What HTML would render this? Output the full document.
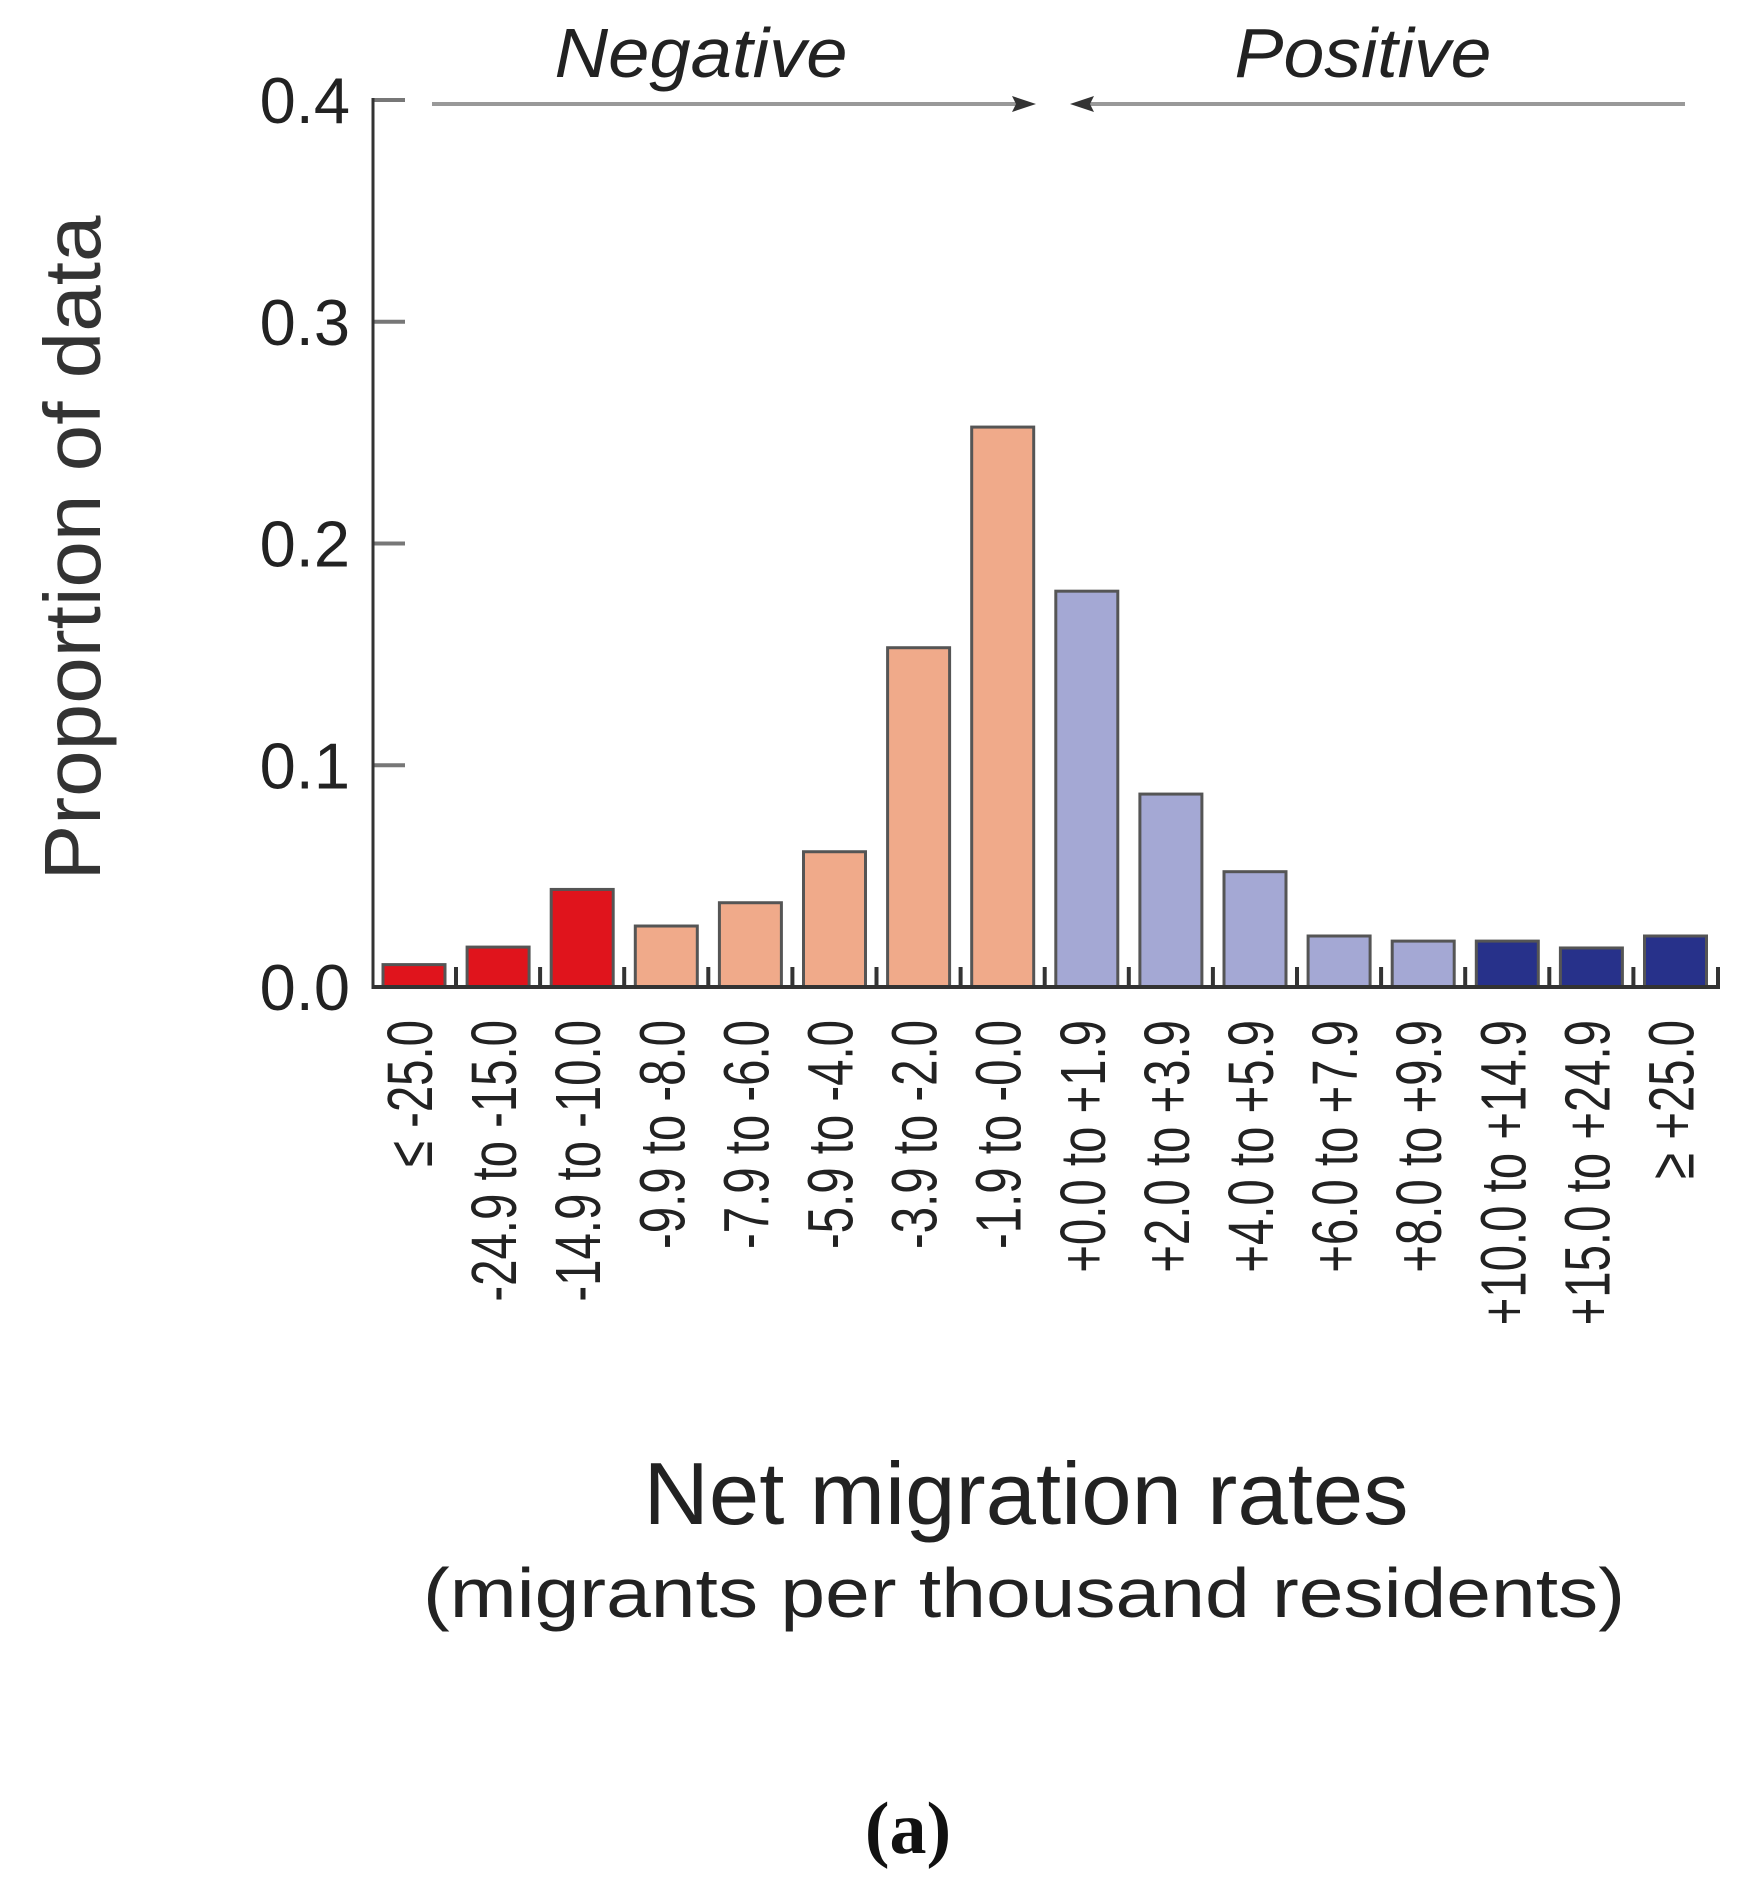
<!DOCTYPE html>
<html><head><meta charset="utf-8"><style>
html,body{margin:0;padding:0;background:#fff;}
svg{display:block;font-family:"Liberation Sans",sans-serif;}
</style></head><body>
<svg id="chart" width="1761" height="1892" viewBox="0 0 1761 1892" xmlns="http://www.w3.org/2000/svg">
<g id="bars"></g>
<g id="axes"></g>
<g id="xlabels"></g>
<g>
  <line x1="432" y1="104" x2="1028" y2="104" stroke="#999" stroke-width="4"/>
  <polygon points="1036,104 1012,96 1016,104 1012,112" fill="#333"/>
  <line x1="1078" y1="104" x2="1685" y2="104" stroke="#999" stroke-width="4"/>
  <polygon points="1070,104 1094,96 1090,104 1094,112" fill="#333"/>
  <text x="701" y="77" font-size="70" font-style="italic" text-anchor="middle" textLength="293" lengthAdjust="spacingAndGlyphs" fill="#222">Negative</text>
  <text x="1363" y="77" font-size="70" font-style="italic" text-anchor="middle" textLength="257" lengthAdjust="spacingAndGlyphs" fill="#222">Positive</text>
</g>
<text transform="translate(100,548) rotate(-90)" font-size="80" text-anchor="middle" textLength="665" lengthAdjust="spacingAndGlyphs" fill="#333">Proportion of data</text>
<text x="1026" y="1524" font-size="88" text-anchor="middle" textLength="765" lengthAdjust="spacingAndGlyphs" fill="#222">Net migration rates</text>
<text x="1024" y="1617" font-size="70" text-anchor="middle" textLength="1202" lengthAdjust="spacingAndGlyphs" fill="#222">(migrants per thousand residents)</text>
<text x="908" y="1853" font-size="74" font-weight="bold" text-anchor="middle" font-family="Liberation Serif, serif" fill="#111">(a)</text>
</svg>
<script>
const categories = ["≤ -25.0","-24.9 to -15.0","-14.9 to -10.0","-9.9 to -8.0","-7.9 to -6.0","-5.9 to -4.0","-3.9 to -2.0","-1.9 to -0.0","+0.0 to +1.9","+2.0 to +3.9","+4.0 to +5.9","+6.0 to +7.9","+8.0 to +9.9","+10.0 to +14.9","+15.0 to +24.9","≥ +25.0"];
const values = [0.0101,0.018,0.044,0.0275,0.038,0.061,0.153,0.2525,0.1785,0.087,0.052,0.023,0.0207,0.0207,0.0176,0.023];
const groups = ["strong-neg","strong-neg","strong-neg","neg","neg","neg","neg","neg","pos","pos","pos","pos","pos","strong-pos","strong-pos","strong-pos"];
const yTicks = [0.0,0.1,0.2,0.3,0.4];
const yTickLabels = ["0.0","0.1","0.2","0.3","0.4"];

const NS="http://www.w3.org/2000/svg";
const colors={"strong-neg":"#e0141c","neg":"#f0aa8a","pos":"#a4a8d4","strong-pos":"#27318a"};
const X0=373, X1=1720, Y0=987, YTOP=100, PITCH=84.1, FIRST=383, BW=62;
function yScale(v){return Y0-(v/0.4)*(Y0-YTOP);}
function xScale(i){return FIRST+i*PITCH;}
function mk(tag,attrs,parent){const e=document.createElementNS(NS,tag);for(const k in attrs)e.setAttribute(k,attrs[k]);parent.appendChild(e);return e;}
const bars=document.getElementById('bars'), axes=document.getElementById('axes'), xl=document.getElementById('xlabels');
values.forEach((v,i)=>{
  const x=xScale(i), y=yScale(v);
  const r=mk('rect',{x:x,y:y,width:BW,height:Y0-y,fill:colors[groups[i]],stroke:'#555','stroke-width':3},bars);
  
  
  const t=mk('text',{transform:'translate('+(x+BW/2+18)+',1020) rotate(-90) scale(0.74,1)','font-size':64,'text-anchor':'end',fill:'#222'},xl);
  t.textContent=categories[i];
  
  
  if(i<values.length-1){
    const tk=mk('line',{x1:x+BW+11,x2:x+BW+11,y1:Y0,y2:Y0-20,stroke:'#333','stroke-width':4},axes);
    
    
  }
});
const endTick=mk('line',{x1:X1-2,x2:X1-2,y1:Y0,y2:Y0-20,stroke:'#333','stroke-width':4},axes);


yTicks.forEach((v,i)=>{
  const y=yScale(v);
  const tk=mk('line',{x1:X0,x2:X0+32,y1:y,y2:y,stroke:'#777','stroke-width':4},axes);
  
  
  const t=mk('text',{x:350,y:y+23,'font-size':65,'text-anchor':'end',fill:'#222'},axes);
  t.textContent=yTickLabels[i];
  
  
});
const ya=mk('line',{x1:X0,x2:X0,y1:YTOP-2,y2:Y0+2,stroke:'#333','stroke-width':3},axes);


const xa=mk('line',{x1:X0,x2:X1,y1:Y0,y2:Y0,stroke:'#333','stroke-width':4},axes);


</script>
</body></html>
